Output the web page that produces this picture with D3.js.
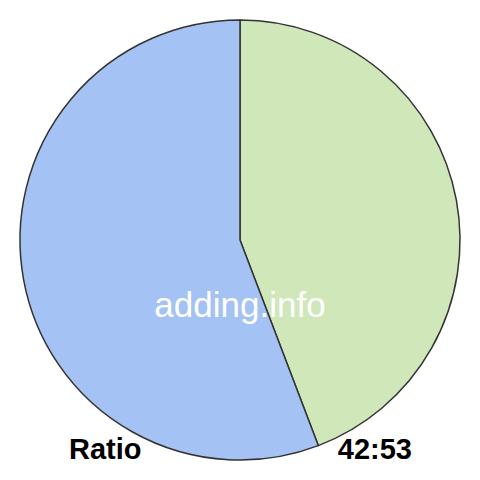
<!DOCTYPE html>
<html>
<head>
<meta charset="utf-8">
<script src="https://cdn.jsdelivr.net/npm/d3@7"></script>
<style>
  body { margin: 0; background: #fff; }
  text { font-family: "Liberation Sans", Arial, sans-serif; }
</style>
</head>
<body>
<svg id="chart" width="480" height="480"></svg>
<script>
// Ratio pie — two parts, drawn clockwise from 12 o'clock
const labels = ['First', 'Second'];
const values = [42, 53];
const colors = ['#cfe7b9', '#a4c2f4'];

const width = 480, height = 480;
const cx = 240, cy = 240, radius = 220;

const svg = d3.select('#chart');
const g = svg.append('g').attr('transform', `translate(${cx},${cy})`);

const pie = d3.pie().sort(null).value(d => d);
const arc = d3.arc().innerRadius(0).outerRadius(radius);

g.selectAll('path.slice')
  .data(pie(values))
  .enter()
  .append('path')
  .attr('class', 'slice')
  .attr('d', arc)
  .attr('fill', (d, i) => colors[i])
  .attr('stroke', '#333')
  .attr('stroke-width', 1.5)
  .attr('stroke-linejoin', 'round');

// watermark
svg.append('text')
  .attr('x', 240)
  .attr('y', 317)
  .attr('text-anchor', 'middle')
  .attr('font-size', 35)
  .attr('fill', '#fff')
  .text('adding.info');

// bottom labels
svg.append('text')
  .attr('x', 69)
  .attr('y', 459)
  .attr('font-size', 29)
  .attr('font-weight', 'bold')
  .attr('fill', '#000')
  .text('Ratio');

svg.append('text')
  .attr('x', 412)
  .attr('y', 459)
  .attr('text-anchor', 'end')
  .attr('font-size', 29)
  .attr('font-weight', 'bold')
  .attr('fill', '#000')
  .text(values.join(':'));
</script>
</body>
</html>
